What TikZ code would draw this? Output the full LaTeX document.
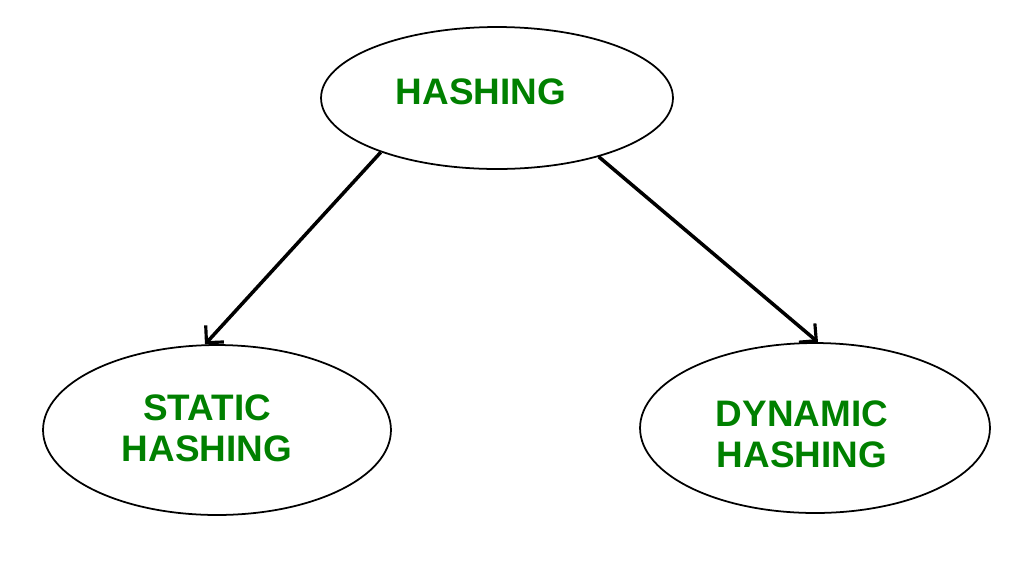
\documentclass[tikz,border=0pt]{standalone}
\usepackage{fontspec}
\setmainfont{Liberation Sans}
\usetikzlibrary{shapes.geometric,arrows.meta}
\definecolor{lbl}{RGB}{0,128,0}
\begin{document}
\begin{tikzpicture}[x=0.02cm,y=-0.02cm,
  ell/.style={ellipse,draw,line width=1pt,inner sep=0pt},
  txt/.style={font=\bfseries\fontsize{21}{23.5}\selectfont,text=lbl,align=center},
  conn/.style={line width=2pt,-{Straight Barb[length=7pt,width=14pt,line width=1.8pt]}}]
\useasboundingbox (0,0) rectangle (1024,576);
\node[ell,minimum width=7.04cm,minimum height=2.84cm] (h) at (497,98) {};
\node[ell,minimum width=6.96cm,minimum height=3.4cm] (s) at (217,430) {};
\node[ell,minimum width=7.0cm,minimum height=3.4cm] (d) at (815,428) {};
\node[txt] (ht) at (481,92) {HASHING};
\node[txt] (st) at (207,428) {STATIC\\HASHING};
\node[txt] (dt) at (802,434) {DYNAMIC\\HASHING};
\draw[conn] (h.-155) -- (s.98);
\draw[conn] (h.-30) -- (d.88);
\end{tikzpicture}
\end{document}
